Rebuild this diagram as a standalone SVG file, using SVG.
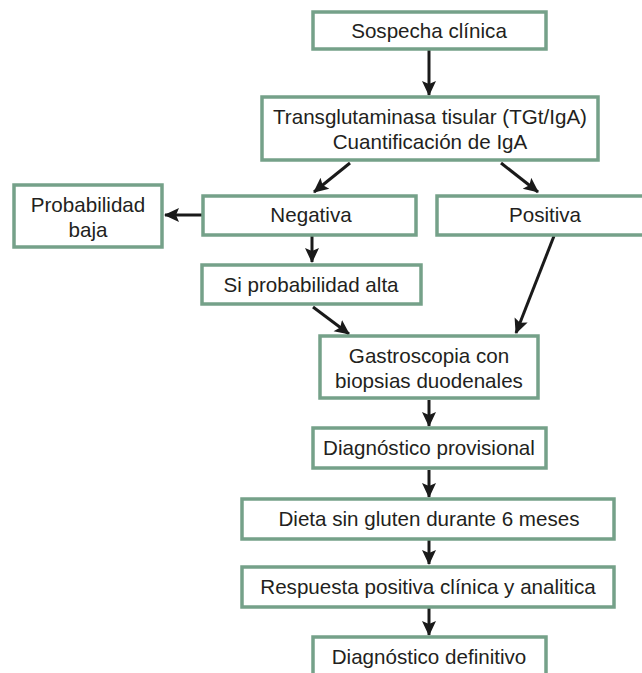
<svg xmlns="http://www.w3.org/2000/svg" width="642" height="673" viewBox="0 0 642 673">
<style>
.box{fill:#fff;stroke:#75a189;stroke-width:3.5}
.t{font-family:"Liberation Sans",Arial,sans-serif;font-size:20.6px;fill:#231f20;text-anchor:middle}
.c{stroke:#1a1a1a;stroke-width:3;fill:none;marker-end:url(#ah)}
</style>
<defs>
<marker id="ah" markerUnits="userSpaceOnUse" markerWidth="16" markerHeight="16" viewBox="0 0 16 16" refX="14" refY="8" orient="auto">
<path d="M0,1 L15,8 L0,15 L3,8 z" fill="#1a1a1a"/>
</marker>
</defs>
<rect width="642" height="673" fill="#fff"/>
<g id="connectors">
<line class="c" x1="429" y1="50" x2="429" y2="95"/>
<line class="c" x1="350" y1="163" x2="314" y2="192"/>
<line class="c" x1="501" y1="163" x2="538" y2="192"/>
<line class="c" x1="202" y1="215" x2="165" y2="215"/>
<line class="c" x1="312" y1="236" x2="312" y2="262"/>
<line class="c" x1="313" y1="307" x2="349" y2="334"/>
<line class="c" x1="554" y1="236" x2="516" y2="333"/>
<line class="c" x1="429" y1="400" x2="429" y2="426"/>
<line class="c" x1="429" y1="470" x2="429" y2="497"/>
<line class="c" x1="429" y1="539" x2="429" y2="564"/>
<line class="c" x1="429" y1="608" x2="429" y2="635"/>
</g>
<g id="n1"><rect class="box" x="313" y="12" width="233" height="37"/><text class="t" x="429" y="38">Sospecha clínica</text></g>
<g id="n2"><rect class="box" x="262" y="97" width="336" height="63"/><text class="t" x="430" y="124">Transglutaminasa tisular (TGt/IgA)</text><text class="t" x="430" y="149">Cuantificación de IgA</text></g>
<g id="n3"><rect class="box" x="14" y="185" width="148" height="62"/><text class="t" x="88" y="212">Probabilidad</text><text class="t" x="88" y="237">baja</text></g>
<g id="n4"><rect class="box" x="203" y="196" width="213" height="39"/><text class="t" x="311" y="222">Negativa</text></g>
<g id="n5"><rect class="box" x="437" y="196" width="214" height="39"/><text class="t" x="545" y="222">Positiva</text></g>
<g id="n6"><rect class="box" x="202" y="265" width="219" height="39"/><text class="t" x="311" y="292">Si probabilidad alta</text></g>
<g id="n7"><rect class="box" x="320" y="336" width="218" height="62"/><text class="t" x="429" y="363">Gastroscopia con</text><text class="t" x="429" y="388">biopsias duodenales</text></g>
<g id="n8"><rect class="box" x="313" y="428" width="233" height="40"/><text class="t" x="429" y="455">Diagnóstico provisional</text></g>
<g id="n9"><rect class="box" x="242" y="499" width="372" height="40"/><text class="t" x="429" y="526">Dieta sin gluten durante 6 meses</text></g>
<g id="n10"><rect class="box" x="242" y="567" width="372" height="40"/><text class="t" x="428" y="594">Respuesta positiva clínica y analitica</text></g>
<g id="n11"><rect class="box" x="313" y="637" width="233" height="50"/><text class="t" x="429" y="664">Diagnóstico definitivo</text></g>
</svg>
